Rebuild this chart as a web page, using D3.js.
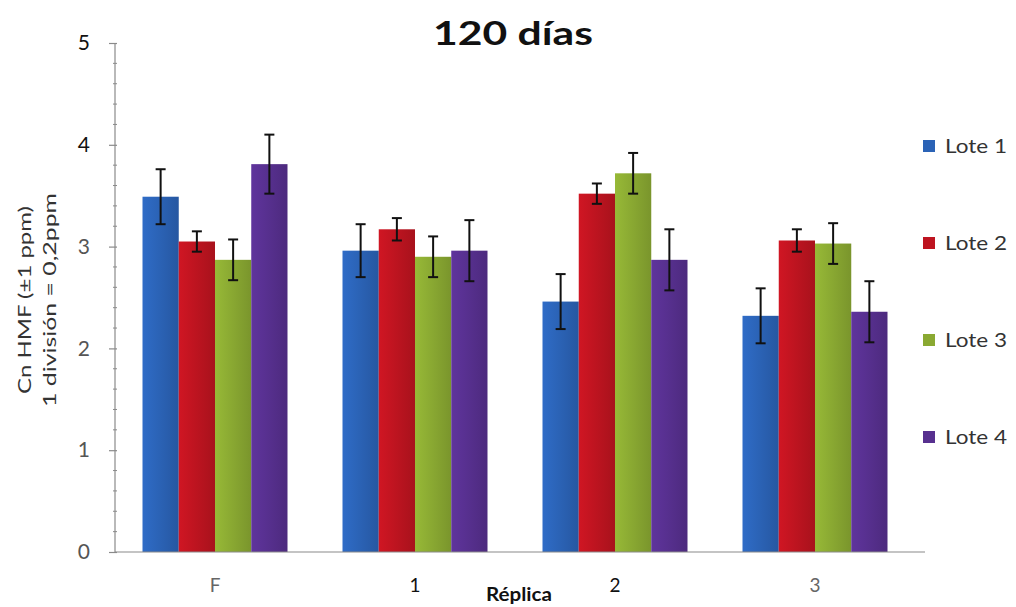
<!DOCTYPE html>
<html>
<head>
<meta charset="utf-8">
<script src="https://cdn.jsdelivr.net/npm/d3@7"></script>
<style>
  html, body { margin: 0; padding: 0; background: #ffffff; }
  svg { display: block; }
</style>
</head>
<body>
<svg id="chart" width="1016" height="607"></svg>
<script>
// Categories (réplicas) and series (lotes)
const categories = ["F", "1", "2", "3"];
const seriesNames = ["Lote 1", "Lote 2", "Lote 3", "Lote 4"];

// Mean concentration per lote, one value per réplica
const lote1 = [3.49, 2.96, 2.46, 2.32];
const lote2 = [3.05, 3.17, 3.52, 3.06];
const lote3 = [2.87, 2.90, 3.72, 3.03];
const lote4 = [3.81, 2.96, 2.87, 2.36];

// Error (± ppm) per lote
const err1 = [0.27, 0.26, 0.27, 0.27];
const err2 = [0.10, 0.11, 0.10, 0.11];
const err3 = [0.20, 0.20, 0.20, 0.20];
const err4 = [0.29, 0.30, 0.30, 0.30];

const yTicks = [0, 1, 2, 3, 4, 5];

const values = [lote1, lote2, lote3, lote4];
const errors = [err1, err2, err3, err4];
const colors = ["#2b63b6", "#be1420", "#8aa932", "#57308f"];

const svg = d3.select("#chart");
const margin = { left: 115, right: 101, top: 43, bottom: 55 };
const W = 1016, H = 607;

const x0 = d3.scaleBand()
  .domain(categories)
  .range([margin.left, W - margin.right])
  .paddingInner(0.275)
  .paddingOuter(0.1375);

const x1 = d3.scaleBand()
  .domain(seriesNames)
  .range([0, x0.bandwidth()]);

const y = d3.scaleLinear()
  .domain([0, 5])
  .range([H - margin.bottom, margin.top]);

const font = "Lato, 'Open Sans', sans-serif";

// gradients giving the bars a soft shaded look
const defs = svg.append("defs");
colors.forEach((c, i) => {
  const g = defs.append("linearGradient")
    .attr("id", "grad" + i)
    .attr("x1", "0%").attr("x2", "100%").attr("y1", "0%").attr("y2", "0%");
  const base = d3.color(c);
  g.append("stop").attr("offset", "0%").attr("stop-color", base.brighter(0.25));
  g.append("stop").attr("offset", "45%").attr("stop-color", base);
  g.append("stop").attr("offset", "100%").attr("stop-color", base.darker(0.35));
});

// Bars
const groups = svg.append("g").selectAll("g")
  .data(categories)
  .join("g")
  .attr("transform", d => `translate(${x0(d)},0)`);

const cellData = (d, ci) => seriesNames.map((s, si) => ({ s, si, v: values[si][ci], e: errors[si][ci] }));

groups.selectAll("rect")
  .data(cellData)
  .join("rect")
  .attr("x", d => x1(d.s))
  .attr("width", x1.bandwidth())
  .attr("y", d => y(d.v))
  .attr("height", d => y(0) - y(d.v))
  .attr("fill", d => `url(#grad${d.si})`);

// Error bars
const eb = groups.selectAll("g.err")
  .data(cellData)
  .join("g")
  .attr("class", "err")
  .attr("stroke", "#111")
  .attr("stroke-width", 2);

eb.append("line")
  .attr("x1", d => x1(d.s) + x1.bandwidth() / 2)
  .attr("x2", d => x1(d.s) + x1.bandwidth() / 2)
  .attr("y1", d => y(d.v + d.e))
  .attr("y2", d => y(d.v - d.e));
[1, -1].forEach(sign => {
  eb.append("line")
    .attr("x1", d => x1(d.s) + x1.bandwidth() / 2 - 5)
    .attr("x2", d => x1(d.s) + x1.bandwidth() / 2 + 5)
    .attr("y1", d => y(d.v + sign * d.e))
    .attr("y2", d => y(d.v + sign * d.e));
});

// Y axis with minor divisions of 0.2
const axisColor = "#8a8a8a";
const minor = d3.range(0, 5.0001, 0.2).filter(v => Math.abs(v - Math.round(v)) > 1e-6);
const yAxisG = svg.append("g");
yAxisG.append("line")
  .attr("x1", margin.left).attr("x2", margin.left)
  .attr("y1", y(0)).attr("y2", y(5))
  .attr("stroke", axisColor).attr("stroke-width", 1.2);
yAxisG.selectAll("line.minor")
  .data(minor)
  .join("line")
  .attr("class", "minor")
  .attr("x1", margin.left - 2).attr("x2", margin.left + 2)
  .attr("y1", d => y(d)).attr("y2", d => y(d))
  .attr("stroke", axisColor).attr("stroke-width", 1);

const yAxis = d3.axisLeft(y).tickValues(yTicks).tickFormat(d3.format("d")).tickSize(8).tickPadding(19);
const ya = svg.append("g")
  .attr("transform", `translate(${margin.left + 2},0)`)
  .call(yAxis);
ya.select(".domain").remove();
ya.selectAll(".tick line").attr("stroke", axisColor).attr("stroke-width", 1.2);
ya.selectAll(".tick text")
  .attr("font-family", font)
  .attr("font-size", 21)
  .attr("fill", d => d >= 4 ? "#111" : "#555");

// X axis baseline and category labels
const xAxis = d3.axisBottom(x0).tickSize(0).tickPadding(27);
const xa = svg.append("g")
  .attr("transform", `translate(0,${y(0)})`)
  .call(xAxis);
xa.select(".domain")
  .attr("d", `M${margin.left},0H${W - margin.right + 10}`)
  .attr("stroke", axisColor).attr("stroke-width", 1.2);
xa.selectAll(".tick text")
  .attr("font-family", font)
  .attr("font-size", 19)
  .attr("fill", d => (d === "1" || d === "2") ? "#111" : "#666");

// Title
svg.append("text")
  .attr("x", 513).attr("y", 45)
  .attr("text-anchor", "middle")
  .attr("font-family", font)
  .attr("font-weight", "bold")
  .attr("font-size", 33)
  .attr("textLength", 160)
  .attr("lengthAdjust", "spacingAndGlyphs")
  .attr("fill", "#111")
  .text("120 días");

// X axis title
svg.append("text")
  .attr("x", 519).attr("y", 601)
  .attr("text-anchor", "middle")
  .attr("font-family", font)
  .attr("font-weight", "bold")
  .attr("font-size", 18)
  .attr("textLength", 66)
  .attr("lengthAdjust", "spacingAndGlyphs")
  .attr("fill", "#111")
  .text("Réplica");

// Y axis title (two lines)
const yt = svg.append("text")
  .attr("transform", "translate(0,300) rotate(-90)")
  .attr("text-anchor", "middle")
  .attr("font-family", font)
  .attr("font-size", 18)
  .attr("fill", "#333");
yt.append("tspan").attr("x", 0).attr("y", 31)
  .attr("textLength", 188).attr("lengthAdjust", "spacingAndGlyphs")
  .text("Cn HMF (±1 ppm)");
yt.append("tspan").attr("x", 0).attr("y", 56)
  .attr("textLength", 214).attr("lengthAdjust", "spacingAndGlyphs")
  .text("1 división = 0,2ppm");

// Legend
const legend = svg.append("g").selectAll("g")
  .data(seriesNames)
  .join("g")
  .attr("transform", (d, i) => `translate(923,${146 + i * 97})`);
legend.append("rect")
  .attr("x", 0).attr("y", -6)
  .attr("width", 12).attr("height", 12)
  .attr("fill", (d, i) => colors[i]);
legend.append("text")
  .attr("x", 22).attr("y", 7)
  .attr("font-family", font)
  .attr("font-size", 19)
  .attr("textLength", 62)
  .attr("lengthAdjust", "spacingAndGlyphs")
  .attr("fill", "#333")
  .text(d => d);
</script>
</body>
</html>
